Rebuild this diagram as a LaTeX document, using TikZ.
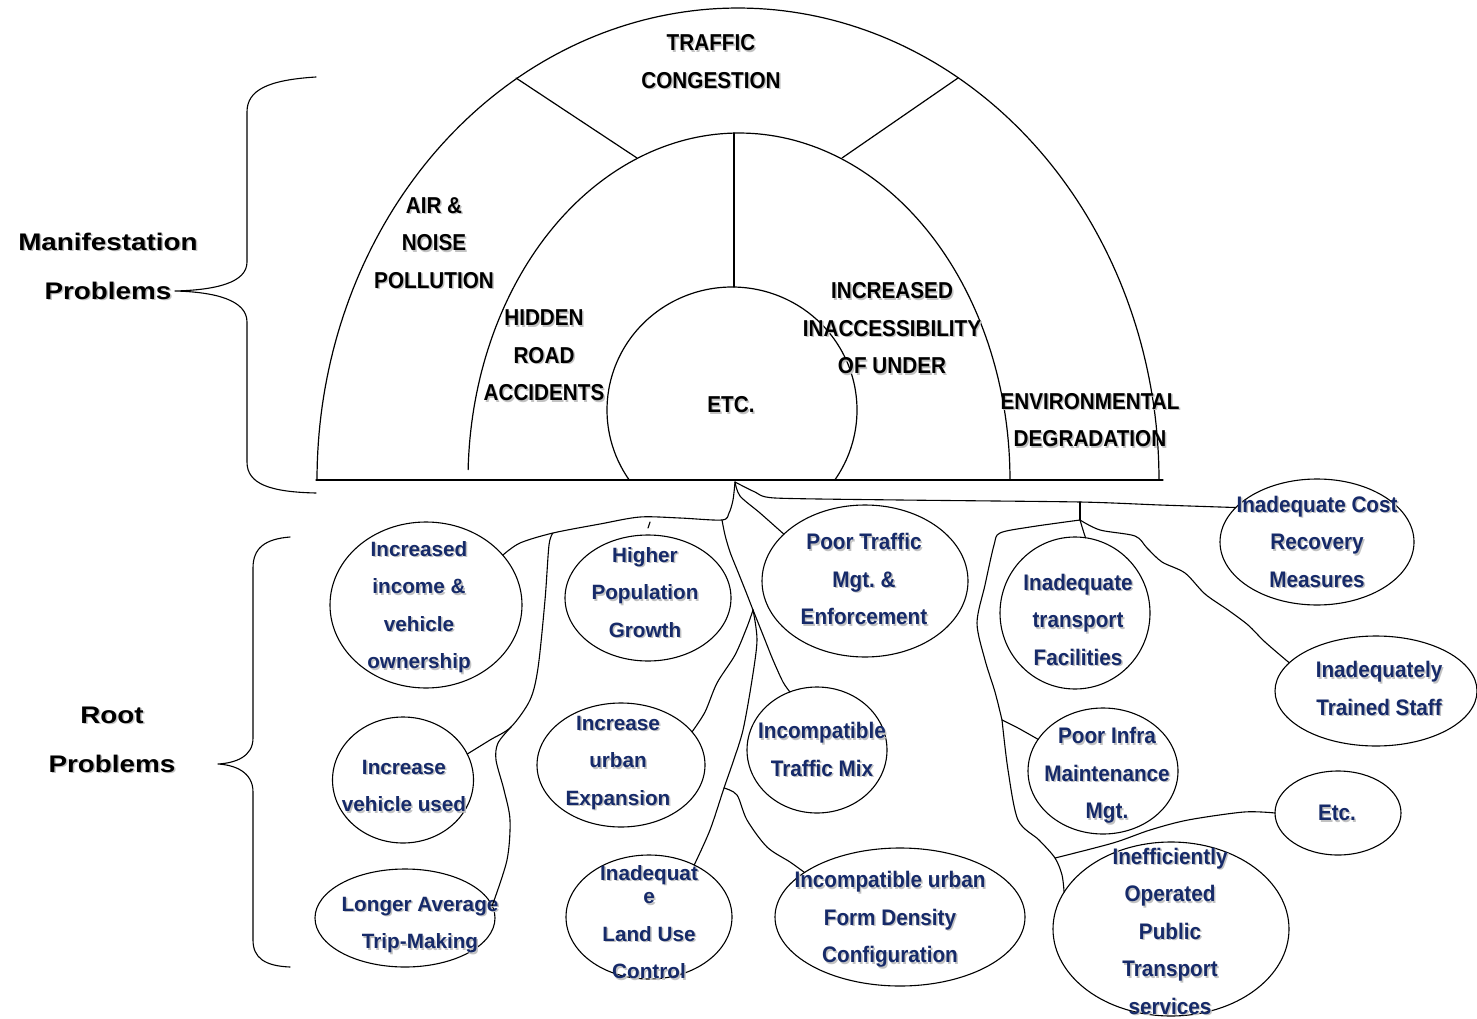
\documentclass[tikz,border=0pt]{standalone}
\usepackage{fontspec}
\setmainfont{Liberation Sans}
\newfontfamily\archsans[FakeStretch=0.9]{Liberation Sans}
\newfontfamily\bubblenarrow[FakeStretch=0.92]{Liberation Sans}
\newfontfamily\widesans[FakeStretch=1.16]{Liberation Sans}
\usetikzlibrary{shapes.geometric}
\definecolor{navytext}{RGB}{22,42,105}
\definecolor{shadowgray}{gray}{0.76}
% strut whose height minus depth equals the cap height, so a centred node
% is centred on the capitals of its first and last lines
\newcommand\lstrut{\rule[-0.3em]{0pt}{1.016em}}
% one line of text with a soft drop shadow
\newcommand\sh[1]{\lstrut\makebox[0pt][l]{\hspace{1.5pt}\raisebox{-1.5pt}{\textcolor{shadowgray}{#1}}}#1}
\frenchspacing

\begin{document}
\begin{tikzpicture}[x=1pt,y=-1pt,line join=round,line cap=round,
  archline/.style={line width=1.2pt},
  link/.style={line width=1.1pt},
  archtext/.style={font={\archsans\bfseries\fontsize{23}{37.5}\selectfont},align=center,inner sep=0pt,yshift=-3pt},
  sidetext/.style={font={\widesans\bfseries\fontsize{24}{49}\selectfont},align=center,inner sep=0pt,yshift=-3pt},
  widetext/.style={text=navytext,font={\bfseries\fontsize{20.7}{37.5}\selectfont},align=center,inner sep=0pt,yshift=-3pt},
  narrowtext/.style={text=navytext,font={\bubblenarrow\bfseries\fontsize{22.5}{37.5}\selectfont},align=center,inner sep=0pt,yshift=-3pt},
  bubble/.style={draw,ellipse,line width=1.1pt,inner sep=0pt,outer sep=0pt}]

\useasboundingbox (0,0) rectangle (1477,1019);
\fill[white] (0,0) rectangle (1477,1019);

% ---------- the arch of manifestation problems ----------
\draw[archline] (316,480) -- (1163,480);
\draw[archline] plot[domain=0:180,samples=160] ({738+421*cos(\x)},{480-472*sin(\x)});
\draw[archline] plot[domain=0:178.3,samples=140] ({739+271*cos(\x)},{480-347*sin(\x)});
\draw[archline] plot[domain=-34.7:214.7,samples=140] ({732+125*cos(\x)},{410-123*sin(\x)});
\draw[archline] (734,133) -- (734,287);
\draw[archline] (516,78) -- (637,158);
\draw[archline] (958,78) -- (842,158);

\node[archtext] (traffic) at (711,61.5) {\sh{TRAFFIC}\\\sh{CONGESTION}};
\node[archtext] (airnoise) at (434,243) {\sh{AIR \&}\\\sh{NOISE}\\\sh{POLLUTION}};
\node[archtext] (hidden) at (544,355.5) {\sh{HIDDEN}\\\sh{ROAD}\\\sh{ACCIDENTS}};
\node[archtext] (etcarch) at (731,405) {\sh{ETC.}};
\node[archtext] (inacc) at (892,328.5) {\sh{INCREASED}\\\sh{INACCESSIBILITY}\\\sh{OF UNDER}};
\node[archtext] (environ) at (1090,420) {\sh{ENVIRONMENTAL}\\\sh{DEGRADATION}};

% ---------- side braces and their labels ----------
\draw[link] (316,77) .. controls (268,80) and (247,90) .. (247,112) -- (247,262)
  .. controls (247,283) and (215,290) .. (175,291)
  .. controls (215,292) and (247,300) .. (247,322) -- (247,462)
  .. controls (247,484) and (270,492) .. (316,493);
\draw[link] (290,537) .. controls (265,539) and (253,548) .. (253,568) -- (253,738)
  .. controls (253,757) and (235,763) .. (218,764)
  .. controls (235,765) and (253,772) .. (253,792) -- (253,940)
  .. controls (253,958) and (265,966) .. (290,967);

\node[sidetext] (manif) at (108,266.5) {\sh{Manifestation}\\\sh{Problems}};
\node[sidetext] (rootlbl) at (112,739.5) {\sh{Root}\\\sh{Problems}};

% ---------- root problem bubbles ----------
\node[bubble,minimum width=192pt,minimum height=166pt] (e1) at (426,605) {};
\node[bubble,minimum width=166pt,minimum height=126pt] (e2) at (648,598) {};
\node[bubble,minimum width=206pt,minimum height=152pt] (e3) at (865,581) {};
\node[bubble,minimum width=150pt,minimum height=152pt] (e4) at (1075,613) {};
\node[bubble,minimum width=194pt,minimum height=126pt] (e5) at (1317,542) {};
\node[bubble,minimum width=202pt,minimum height=110pt] (e6) at (1376,691) {};
\node[bubble,minimum width=141pt,minimum height=126pt] (e7) at (403,780) {};
\node[bubble,minimum width=180pt,minimum height=98pt] (e8) at (405,918) {};
\node[bubble,minimum width=168pt,minimum height=124pt] (e9) at (621,765) {};
\node[bubble,minimum width=140pt,minimum height=126pt] (e10) at (817,750) {};
\node[bubble,minimum width=166pt,minimum height=124pt] (e11) at (649,917) {};
\node[bubble,minimum width=250pt,minimum height=138pt] (e12) at (900,917) {};
\node[bubble,minimum width=150pt,minimum height=126pt] (e13) at (1103,771) {};
\node[bubble,minimum width=126pt,minimum height=84pt] (e14) at (1338,813) {};
\node[bubble,minimum width=236pt,minimum height=174pt] (e15) at (1171,929) {};

\node[widetext] (t1) at (419,605) {\sh{Increased}\\\sh{income \&}\\\sh{vehicle}\\\sh{ownership}};
\node[widetext] (t2) at (645,592.5) {\sh{Higher}\\\sh{Population}\\\sh{Growth}};
\node[narrowtext] (t3) at (864,579.5) {\sh{Poor Traffic}\\\sh{Mgt. \&}\\\sh{Enforcement}};
\node[narrowtext] (t4) at (1078,620) {\sh{Inadequate}\\\sh{transport}\\\sh{Facilities}};
\node[narrowtext] (t5) at (1317,542) {\sh{Inadequate Cost}\\\sh{Recovery}\\\sh{Measures}};
\node[narrowtext] (t6) at (1379,688.5) {\sh{Inadequately}\\\sh{Trained Staff}};
\node[widetext] (t7) at (404,785.5) {\sh{Increase}\\\sh{vehicle used}};
\node[widetext] (t8) at (420,922.5) {\sh{Longer Average}\\\sh{Trip-Making}};
\node[widetext] (t9) at (618,760.5) {\sh{Increase}\\\sh{urban}\\\sh{Expansion}};
\node[narrowtext] (t10) at (822,749.5) {\sh{Incompatible}\\\sh{Traffic Mix}};
\node[widetext] (t11) at (649,922) {\sh{Inadequat}\\[-14pt]\sh{e}\\\sh{Land Use}\\\sh{Control}};
\node[narrowtext] (t12) at (890,917.5) {\sh{Incompatible urban}\\\sh{Form Density}\\\sh{Configuration}};
\node[narrowtext] (t13) at (1107,773.5) {\sh{Poor Infra}\\\sh{Maintenance}\\\sh{Mgt.}};
\node[narrowtext] (t14) at (1337,813) {\sh{Etc.}};
\node[narrowtext] (t15) at (1170,931.5) {\sh{Inefficiently}\\\sh{Operated}\\\sh{Public}\\\sh{Transport}\\\sh{services}};

% ---------- hand-drawn connectors ----------
\coordinate (root) at (735,482);
\coordinate (jA) at (722,520);
\coordinate (jB) at (553,533);
\coordinate (jC) at (511,727);
\coordinate (jD) at (753,610);
\coordinate (jE) at (724,788);
\coordinate (jF) at (1080,502);
\coordinate (jG) at (1080,520);
\coordinate (jH) at (1002,720);
\coordinate (jI) at (1055,858);

% left side
\draw[link] plot[smooth,tension=0.5] coordinates {(root) (733,500) (729,513) (jA) (680,518) (640,517) (600,524) (jB) (520,543) (e1.33)};
\draw[link] plot[smooth,tension=0.5] coordinates {(jB) (549,545) (545,600) (538,668) (530,700) (jC) (490,740) (e7.22)};
\draw[link] plot[smooth,tension=0.5] coordinates {(jC) (498,743) (496,760) (504,790) (510,820) (507,860) (e8.8)};
\draw[link] (650,522) -- (648,528);

% central trunk
\draw[link] plot[smooth,tension=0.5] coordinates {(jA) (725,535) (730,552) (738,572) (746,592) (jD)};
\draw[link] plot[smooth,tension=0.5] coordinates {(jD) (747,627) (735,655) (717,683) (705,712) (e9.25)};
\draw[link] plot[smooth,tension=0.5] coordinates {(jD) (757,640) (752,680) (743,730) (733,762) (jE) (710,830) (e11.49)};
\draw[link] plot[smooth,tension=0.5] coordinates {(jD) (765,640) (773,660) (783,682) (e10.115)};
\draw[link] plot[smooth,tension=0.5] coordinates {(jE) (737,795) (747,820) (767,847) (790,862) (e12.155)};
\draw[link] plot[smooth,tension=0.5] coordinates {(root) (740,496) (760,513) (e3.150)};

% right side
\draw[link] plot[smooth,tension=0.4] coordinates {(root) (755,492) (775,498) (900,500) (jF) (1160,505) (e5.157)};
\draw[link] (jF) -- (jG);
\draw[link] plot[smooth,tension=0.5] coordinates {(jG) (1083,530) (e4.82)};
\draw[link] plot[smooth,tension=0.5] coordinates {(jG) (1100,530) (1135,536) (1147,548) (1162,562) (1185,573) (1205,594) (1228,610) (1248,625) (1265,642) (e6.162)};
\draw[link] plot[smooth,tension=0.5] coordinates {(jG) (1030,527) (1000,533) (994,545) (985,585) (977,623) (985,660) (995,692) (jH)};
\draw[link] plot[smooth,tension=0.5] coordinates {(jH) (1018,728) (e13.154)};
\draw[link] plot[smooth,tension=0.5] coordinates {(jH) (1008,770) (1018,820) (1039,840) (jI) (1062,875) (e15.161)};
\draw[link] plot[smooth,tension=0.5] coordinates {(jI) (1113,843) (1150,830) (1188,820) (1244,812) (e14.180)};
\end{tikzpicture}
\end{document}
